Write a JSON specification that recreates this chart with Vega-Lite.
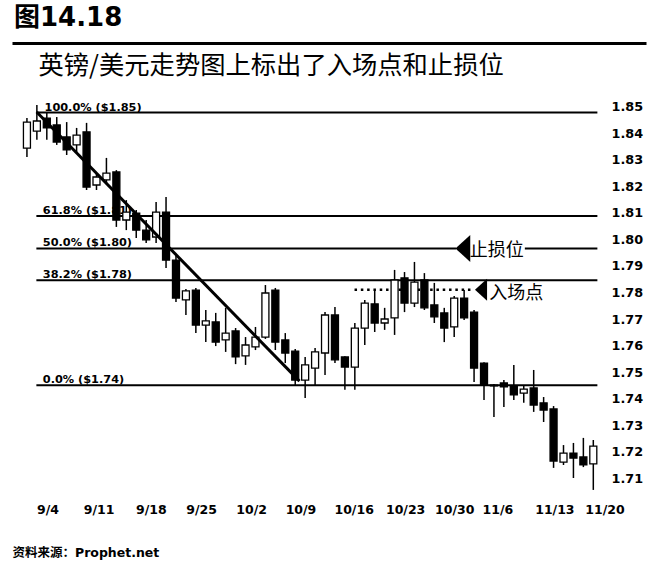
{
  "$schema": "https://vega.github.io/schema/vega-lite/v6.json",
  "width": 634,
  "height": 396,
  "autosize": {"type": "none"},
  "padding": {"left": 12, "top": 97, "right": 2, "bottom": 89},
  "background": "white",
  "title": {
    "text": "图14.18",
    "anchor": "start",
    "frame": "group",
    "dx": 2,
    "offset": 12,
    "fontSize": 26,
    "fontWeight": "bold",
    "font": "DejaVu Sans, Noto Sans CJK SC",
    "color": "black"
  },
  "config": {"view": {"stroke": null}, "axis": {"grid": false}},
  "datasets": {
    "candles": [
      {"i": 0, "open": 1.8344, "high": 1.8457, "low": 1.8310, "close": 1.8442},
      {"i": 1, "open": 1.8408, "high": 1.8506, "low": 1.8375, "close": 1.8446},
      {"i": 2, "open": 1.8457, "high": 1.8480, "low": 1.8375, "close": 1.8420},
      {"i": 3, "open": 1.8431, "high": 1.8461, "low": 1.8356, "close": 1.8367},
      {"i": 4, "open": 1.8386, "high": 1.8442, "low": 1.8318, "close": 1.8337},
      {"i": 5, "open": 1.8356, "high": 1.8420, "low": 1.8329, "close": 1.8393},
      {"i": 6, "open": 1.8405, "high": 1.8439, "low": 1.8186, "close": 1.8197},
      {"i": 7, "open": 1.8205, "high": 1.8250, "low": 1.8186, "close": 1.8235},
      {"i": 8, "open": 1.8224, "high": 1.8307, "low": 1.8212, "close": 1.8250},
      {"i": 9, "open": 1.8254, "high": 1.8261, "low": 1.8047, "close": 1.8073},
      {"i": 10, "open": 1.8073, "high": 1.8148, "low": 1.8035, "close": 1.8103},
      {"i": 11, "open": 1.8099, "high": 1.8111, "low": 1.8005, "close": 1.8035},
      {"i": 12, "open": 1.8035, "high": 1.8073, "low": 1.7986, "close": 1.7998},
      {"i": 13, "open": 1.8009, "high": 1.8141, "low": 1.7986, "close": 1.8103},
      {"i": 14, "open": 1.8103, "high": 1.8160, "low": 1.7892, "close": 1.7922},
      {"i": 15, "open": 1.7922, "high": 1.7937, "low": 1.7764, "close": 1.7779},
      {"i": 16, "open": 1.7772, "high": 1.7813, "low": 1.7715, "close": 1.7806},
      {"i": 17, "open": 1.7809, "high": 1.7817, "low": 1.7647, "close": 1.7677},
      {"i": 18, "open": 1.7677, "high": 1.7734, "low": 1.7613, "close": 1.7693},
      {"i": 19, "open": 1.7689, "high": 1.7723, "low": 1.7598, "close": 1.7613},
      {"i": 20, "open": 1.7621, "high": 1.7742, "low": 1.7576, "close": 1.7647},
      {"i": 21, "open": 1.7655, "high": 1.7666, "low": 1.7530, "close": 1.7557},
      {"i": 22, "open": 1.7561, "high": 1.7632, "low": 1.7527, "close": 1.7602},
      {"i": 23, "open": 1.7595, "high": 1.7670, "low": 1.7583, "close": 1.7632},
      {"i": 24, "open": 1.7632, "high": 1.7828, "low": 1.7625, "close": 1.7798},
      {"i": 25, "open": 1.7809, "high": 1.7817, "low": 1.7583, "close": 1.7613},
      {"i": 26, "open": 1.7621, "high": 1.7647, "low": 1.7534, "close": 1.7572},
      {"i": 27, "open": 1.7579, "high": 1.7587, "low": 1.7451, "close": 1.7470},
      {"i": 28, "open": 1.7470, "high": 1.7557, "low": 1.7402, "close": 1.7527},
      {"i": 29, "open": 1.7515, "high": 1.7591, "low": 1.7451, "close": 1.7576},
      {"i": 30, "open": 1.7572, "high": 1.7726, "low": 1.7489, "close": 1.7715},
      {"i": 31, "open": 1.7715, "high": 1.7745, "low": 1.7534, "close": 1.7546},
      {"i": 32, "open": 1.7557, "high": 1.7560, "low": 1.7433, "close": 1.7519},
      {"i": 33, "open": 1.7519, "high": 1.7685, "low": 1.7433, "close": 1.7666},
      {"i": 34, "open": 1.7666, "high": 1.7772, "low": 1.7602, "close": 1.7760},
      {"i": 35, "open": 1.7757, "high": 1.7806, "low": 1.7651, "close": 1.7685},
      {"i": 36, "open": 1.7685, "high": 1.7742, "low": 1.7659, "close": 1.7700},
      {"i": 37, "open": 1.7704, "high": 1.7885, "low": 1.7640, "close": 1.7847},
      {"i": 38, "open": 1.7855, "high": 1.7877, "low": 1.7726, "close": 1.7760},
      {"i": 39, "open": 1.7760, "high": 1.7915, "low": 1.7745, "close": 1.7839},
      {"i": 40, "open": 1.7847, "high": 1.7873, "low": 1.7734, "close": 1.7742},
      {"i": 41, "open": 1.7753, "high": 1.7836, "low": 1.7685, "close": 1.7708},
      {"i": 42, "open": 1.7723, "high": 1.7742, "low": 1.7613, "close": 1.7666},
      {"i": 43, "open": 1.7670, "high": 1.7787, "low": 1.7632, "close": 1.7779},
      {"i": 44, "open": 1.7779, "high": 1.7809, "low": 1.7696, "close": 1.7704},
      {"i": 45, "open": 1.7726, "high": 1.7734, "low": 1.7463, "close": 1.7515},
      {"i": 46, "open": 1.7534, "high": 1.7537, "low": 1.7395, "close": 1.7451},
      {"i": 47, "open": 1.7451, "high": 1.7455, "low": 1.7331, "close": 1.7448},
      {"i": 48, "open": 1.7459, "high": 1.7470, "low": 1.7368, "close": 1.7444},
      {"i": 49, "open": 1.7448, "high": 1.7527, "low": 1.7395, "close": 1.7414},
      {"i": 50, "open": 1.7421, "high": 1.7448, "low": 1.7384, "close": 1.7436},
      {"i": 51, "open": 1.7440, "high": 1.7508, "low": 1.7350, "close": 1.7376},
      {"i": 52, "open": 1.7384, "high": 1.7406, "low": 1.7312, "close": 1.7357},
      {"i": 53, "open": 1.7361, "high": 1.7372, "low": 1.7139, "close": 1.7165},
      {"i": 54, "open": 1.7161, "high": 1.7225, "low": 1.7150, "close": 1.7195},
      {"i": 55, "open": 1.7195, "high": 1.7233, "low": 1.7101, "close": 1.7176},
      {"i": 56, "open": 1.7180, "high": 1.7252, "low": 1.7142, "close": 1.7150},
      {"i": 57, "open": 1.7154, "high": 1.7244, "low": 1.7056, "close": 1.7221}
    ],
    "fibLines": [
      {"level": "100.0%", "price": 1.8478, "from": 0.95, "to": 57.41},
      {"level": "61.8%", "price": 1.8088, "from": 0.95, "to": 57.41},
      {"level": "50.0%", "price": 1.7966, "from": 0.95, "to": 43.18},
      {"level": "50.0%", "price": 1.7966, "from": 50.11, "to": 57.41},
      {"level": "38.2%", "price": 1.7846, "from": 0.95, "to": 57.41},
      {"level": "0.0%", "price": 1.7450, "from": 0.95, "to": 57.41}
    ],
    "fibLabels": [
      {"label": "100.0% ($1.85)", "price": 1.8478, "at": 1.77},
      {"label": "61.8% ($1.81)", "price": 1.8088, "at": 1.6},
      {"label": "50.0% ($1.80)", "price": 1.7966, "at": 1.6},
      {"label": "38.2% ($1.78)", "price": 1.7846, "at": 1.6},
      {"label": "0.0% ($1.74)", "price": 1.7450, "at": 1.6}
    ],
    "entryLine": [
      {"from": 32.97, "to": 44.86, "price": 1.7810}
    ],
    "trend": [
      {"i0": 0.98, "p0": 1.8480, "i1": 27.43, "p1": 1.7466}
    ],
    "marks": [
      {"text": "止损位", "arrowAt": 43.87, "arrowPrice": 1.7966, "textAt": 44.56, "textPrice": 1.7956},
      {"text": "入场点", "arrowAt": 45.70, "arrowPrice": 1.7810, "textAt": 46.54, "textPrice": 1.7796}
    ]
  },
  "resolve": {"axis": {"x": "independent", "y": "independent"}},
  "layer": [
    {
      "data": {"name": "fibLines"},
      "mark": {"type": "rule", "color": "black", "strokeWidth": 2},
      "encoding": {
        "x": {"field": "from", "type": "quantitative", "scale": {"domain": [-1, 61.8], "nice": false, "zero": false},
          "axis": {"orient": "top", "offset": 54, "domain": true, "domainWidth": 3, "domainColor": "black", "ticks": false, "labels": false, "grid": false,
            "title": "英镑/美元走势图上标出了入场点和止损位", "titleX": 26, "titleY": 22, "titleAlign": "left", "titleAnchor": "start", "titleBaseline": "middle",
            "titleFontSize": 25.3, "titleFontWeight": "normal", "titleFont": "Noto Sans CJK SC", "titleColor": "black"}},
        "x2": {"field": "to"},
        "y": {"field": "price", "type": "quantitative", "scale": {"domain": [1.70444, 1.85365], "nice": false, "zero": false}, "axis": null}
      }
    },
    {
      "data": {"name": "entryLine"},
      "mark": {"type": "rule", "color": "black", "strokeWidth": 2.5, "strokeDash": [2.5, 3.8]},
      "encoding": {
        "x": {"field": "from", "type": "quantitative", "scale": {"domain": [-1, 61.8], "nice": false, "zero": false}, "axis": null},
        "x2": {"field": "to"},
        "y": {"field": "price", "type": "quantitative", "scale": {"domain": [1.70444, 1.85365], "nice": false, "zero": false}, "axis": null}
      }
    },
    {
      "data": {"name": "fibLabels"},
      "mark": {"type": "text", "align": "left", "baseline": "alphabetic", "dy": -2, "font": "DejaVu Sans", "fontWeight": "bold", "fontSize": 11.3, "color": "black"},
      "encoding": {
        "x": {"field": "at", "type": "quantitative", "scale": {"domain": [-1, 61.8], "nice": false, "zero": false}, "axis": null},
        "y": {"field": "price", "type": "quantitative", "scale": {"domain": [1.70444, 1.85365], "nice": false, "zero": false}, "axis": null},
        "text": {"field": "label"}
      }
    },
    {
      "data": {"name": "candles"},
      "mark": {"type": "rule", "color": "black", "strokeWidth": 1.5},
      "encoding": {
        "x": {"field": "i", "type": "quantitative", "scale": {"domain": [-1, 61.8], "nice": false, "zero": false},
          "axis": {"orient": "bottom", "values": [2.07, 7.22, 12.47, 17.52, 22.57, 27.53, 32.88, 38.06, 43.0, 47.34, 53.08, 58.13],
            "labelExpr": "['9/4','9/11','9/18','9/25','10/2','10/9','10/16','10/23','10/30','11/6','11/13','11/20'][indexof([2.07, 7.22, 12.47, 17.52, 22.57, 27.53, 32.88, 38.06, 43.0, 47.34, 53.08, 58.13], datum.value)]",
            "ticks": false, "domain": false, "grid": false, "labelPadding": 10, "labelFlush": false, "labelOverlap": false, "labelBound": false,
            "labelFont": "DejaVu Sans", "labelFontWeight": "bold", "labelFontSize": 12.5, "labelColor": "black",
            "title": "资料来源：Prophet.net", "titleX": 0, "titleY": 59, "titleAlign": "left", "titleAnchor": "start", "titleBaseline": "middle",
            "titleFont": "DejaVu Sans, Noto Sans CJK SC", "titleFontWeight": "bold", "titleFontSize": 12.5, "titleColor": "black"}},
        "y": {"field": "low", "type": "quantitative", "scale": {"domain": [1.70444, 1.85365], "nice": false, "zero": false},
          "axis": {"orient": "right", "offset": -43, "values": [1.71, 1.72, 1.73, 1.74, 1.75, 1.76, 1.77, 1.78, 1.79, 1.8, 1.81, 1.82, 1.83, 1.84, 1.85],
            "format": ".2f", "ticks": false, "domain": false, "grid": false, "labelPadding": 8, "labelFont": "DejaVu Sans", "labelFontWeight": "bold",
            "labelFontSize": 12.8, "labelColor": "black", "title": null}},
        "y2": {"field": "high"}
      }
    },
    {
      "data": {"name": "candles"},
      "mark": {"type": "bar", "size": 7, "stroke": "black", "strokeWidth": 1.3},
      "encoding": {
        "x": {"field": "i", "type": "quantitative", "scale": {"domain": [-1, 61.8], "nice": false, "zero": false}, "axis": null},
        "y": {"field": "open", "type": "quantitative", "scale": {"domain": [1.70444, 1.85365], "nice": false, "zero": false}, "axis": null},
        "y2": {"field": "close"},
        "fill": {"condition": {"test": "datum.close > datum.open", "value": "white"}, "value": "black"}
      }
    },
    {
      "data": {"name": "trend"},
      "mark": {"type": "rule", "color": "black", "strokeWidth": 3},
      "encoding": {
        "x": {"field": "i0", "type": "quantitative", "scale": {"domain": [-1, 61.8], "nice": false, "zero": false}, "axis": null},
        "x2": {"field": "i1"},
        "y": {"field": "p0", "type": "quantitative", "scale": {"domain": [1.70444, 1.85365], "nice": false, "zero": false}, "axis": null},
        "y2": {"field": "p1"}
      }
    },
    {
      "data": {"name": "marks"},
      "mark": {"type": "point", "shape": "M -0.55 0 L 0.55 -1 L 0.55 1 Z", "filled": true, "color": "black", "opacity": 1},
      "encoding": {
        "x": {"field": "arrowAt", "type": "quantitative", "scale": {"domain": [-1, 61.8], "nice": false, "zero": false}, "axis": null},
        "y": {"field": "arrowPrice", "type": "quantitative", "scale": {"domain": [1.70444, 1.85365], "nice": false, "zero": false}, "axis": null},
        "size": {"condition": {"test": "datum.text === '止损位'", "value": 729}, "value": 484}
      }
    },
    {
      "data": {"name": "marks"},
      "mark": {"type": "text", "align": "left", "baseline": "middle", "font": "Noto Sans CJK SC", "fontSize": 18, "color": "black"},
      "encoding": {
        "x": {"field": "textAt", "type": "quantitative", "scale": {"domain": [-1, 61.8], "nice": false, "zero": false}, "axis": null},
        "y": {"field": "textPrice", "type": "quantitative", "scale": {"domain": [1.70444, 1.85365], "nice": false, "zero": false}, "axis": null},
        "text": {"field": "text"}
      }
    }
  ]
}
